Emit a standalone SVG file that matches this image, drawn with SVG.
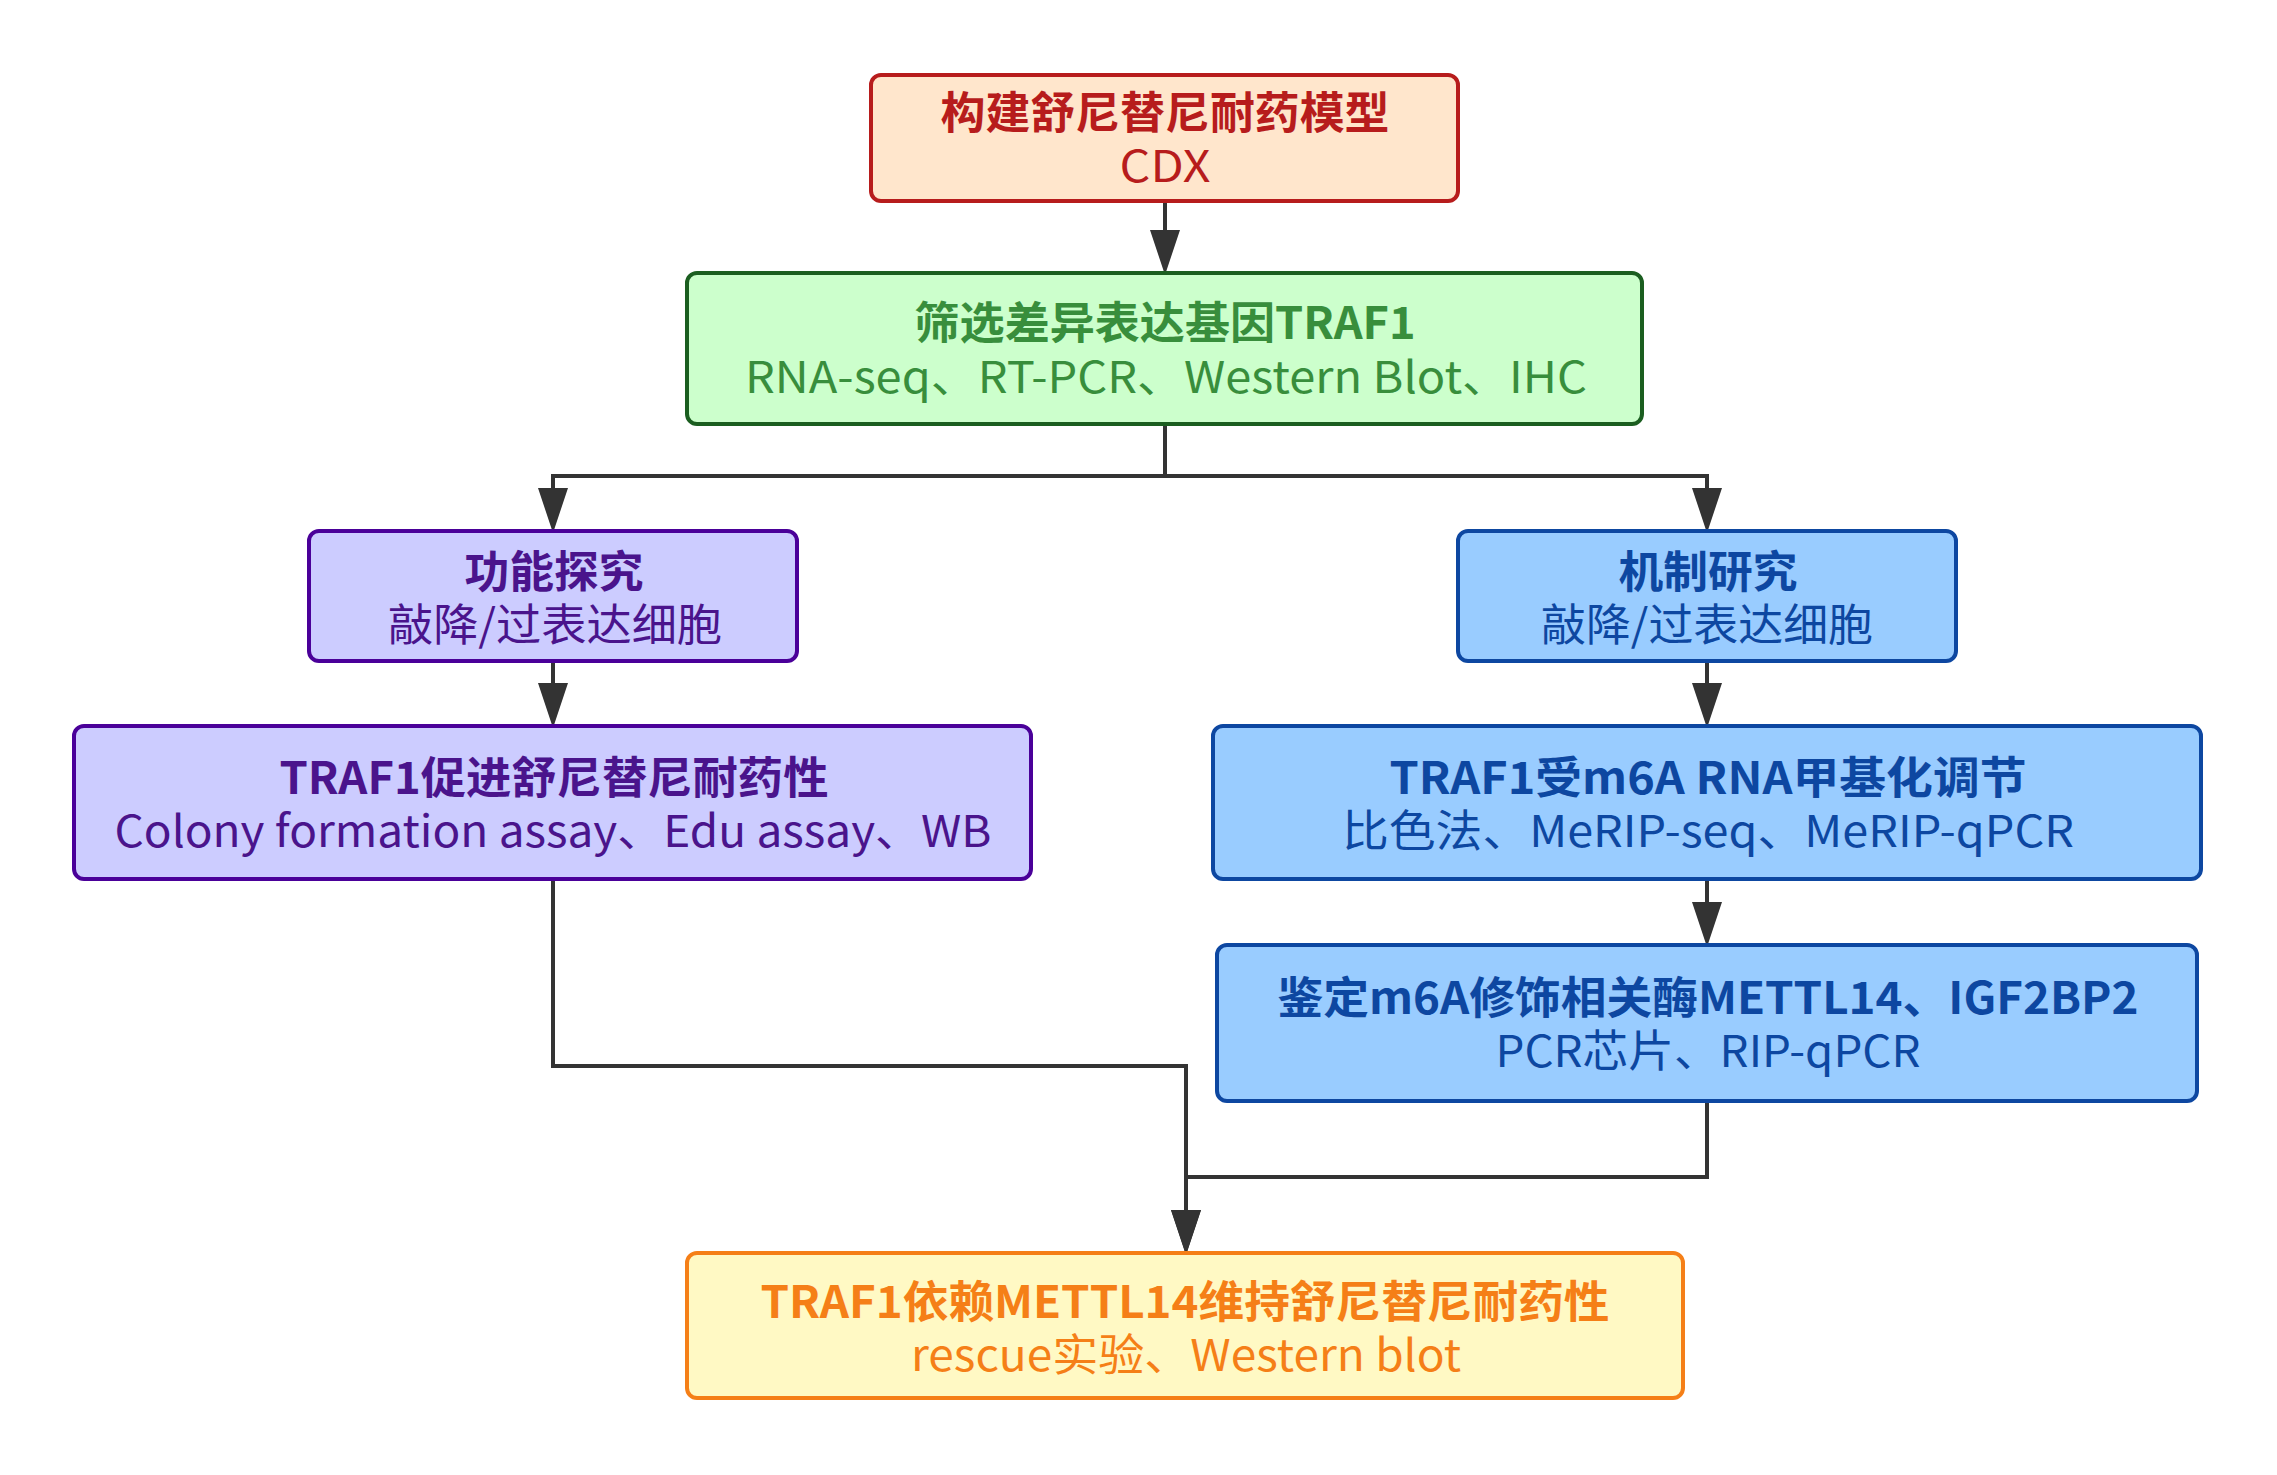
<svg xmlns="http://www.w3.org/2000/svg" width="2277" height="1475" viewBox="0 0 2277 1475">
<style>
text{font-family:"Noto Sans CJK SC","Noto Sans",sans-serif;font-size:44px;text-anchor:middle}
.t{font-weight:bold}
.box{stroke-width:4}
.c{fill:none;stroke:#333333;stroke-width:4}
.red rect{fill:#FFE6CC;stroke:#B71C1C}.red text{fill:#B71C1C}
.green rect{fill:#CCFFCC;stroke:#1B5E20}.green text{fill:#388E3C}
.purple rect{fill:#CCCCFF;stroke:#4A0099}.purple text{fill:#4A148C}
.blue rect{fill:#99CCFF;stroke:#0D47A1}.blue text{fill:#0D47A1}
.orange rect{fill:#FFF9C4;stroke:#F57F17}.orange text{fill:#F57F17}
</style>
<defs>
<marker id="arr" markerUnits="userSpaceOnUse" viewBox="0 0 45 30" markerWidth="45" markerHeight="30" refX="35" refY="15" orient="auto">
<path d="M0,0 L45,15 L0,30 z" fill="#333333"/>
</marker>
</defs>
<rect width="2277" height="1475" fill="#ffffff"/>
<g id="connectors">
<path class="c" d="M1165,201 V265" marker-end="url(#arr)"/>
<path class="c" d="M1165,424 V476 H553 V523" marker-end="url(#arr)"/>
<path class="c" d="M1165,476 H1707 V523" marker-end="url(#arr)"/>
<path class="c" d="M553,661 V718" marker-end="url(#arr)"/>
<path class="c" d="M1707,661 V718" marker-end="url(#arr)"/>
<path class="c" d="M1707,879 V937" marker-end="url(#arr)"/>
<path class="c" d="M553,879 V1066 H1186 V1245" marker-end="url(#arr)"/>
<path class="c" d="M1707,1101 V1177 H1186 V1245" marker-end="url(#arr)"/>
</g>
<g id="n1" class="red">
<rect class="box" x="871" y="75" width="587" height="126" rx="10"/>
<text class="t" x="1165" y="129" textLength="449" lengthAdjust="spacingAndGlyphs">构建舒尼替尼耐药模型</text>
<text x="1165" y="182" textLength="91" lengthAdjust="spacingAndGlyphs">CDX</text>
</g>
<g id="n2" class="green">
<rect class="box" x="687" y="273" width="955" height="151" rx="10"/>
<text class="t" x="1165" y="339" textLength="501" lengthAdjust="spacingAndGlyphs">筛选差异表达基因TRAF1</text>
<text x="1166" y="393" textLength="842" lengthAdjust="spacingAndGlyphs">RNA-seq、RT-PCR、Western Blot、IHC</text>
</g>
<g id="n3" class="purple">
<rect class="box" x="309" y="531" width="488" height="130" rx="10"/>
<text class="t" x="554" y="588" textLength="179" lengthAdjust="spacingAndGlyphs">功能探究</text>
<text x="555" y="641" textLength="334" lengthAdjust="spacingAndGlyphs">敲降/过表达细胞</text>
</g>
<g id="n4" class="blue">
<rect class="box" x="1458" y="531" width="498" height="130" rx="10"/>
<text class="t" x="1708" y="588" textLength="179" lengthAdjust="spacingAndGlyphs">机制研究</text>
<text x="1707" y="641" textLength="332" lengthAdjust="spacingAndGlyphs">敲降/过表达细胞</text>
</g>
<g id="n5" class="purple">
<rect class="box" x="74" y="726" width="957" height="153" rx="10"/>
<text class="t" x="554" y="794" textLength="549" lengthAdjust="spacingAndGlyphs">TRAF1促进舒尼替尼耐药性</text>
<text x="553" y="847" textLength="877" lengthAdjust="spacingAndGlyphs">Colony formation assay、Edu assay、WB</text>
</g>
<g id="n6" class="blue">
<rect class="box" x="1213" y="726" width="988" height="153" rx="10"/>
<text class="t" x="1708" y="794" textLength="637" lengthAdjust="spacingAndGlyphs">TRAF1受m6A RNA甲基化调节</text>
<text x="1708" y="847" textLength="732" lengthAdjust="spacingAndGlyphs">比色法、MeRIP-seq、MeRIP-qPCR</text>
</g>
<g id="n7" class="blue">
<rect class="box" x="1217" y="945" width="980" height="156" rx="10"/>
<text class="t" x="1708" y="1014" textLength="861" lengthAdjust="spacingAndGlyphs">鉴定m6A修饰相关酶METTL14、IGF2BP2</text>
<text x="1708" y="1067" textLength="425" lengthAdjust="spacingAndGlyphs">PCR芯片、RIP-qPCR</text>
</g>
<g id="n8" class="orange">
<rect class="box" x="687" y="1253" width="996" height="145" rx="10"/>
<text class="t" x="1185" y="1318" textLength="849" lengthAdjust="spacingAndGlyphs">TRAF1依赖METTL14维持舒尼替尼耐药性</text>
<text x="1186" y="1371" textLength="550" lengthAdjust="spacingAndGlyphs">rescue实验、Western blot</text>
</g>
</svg>
